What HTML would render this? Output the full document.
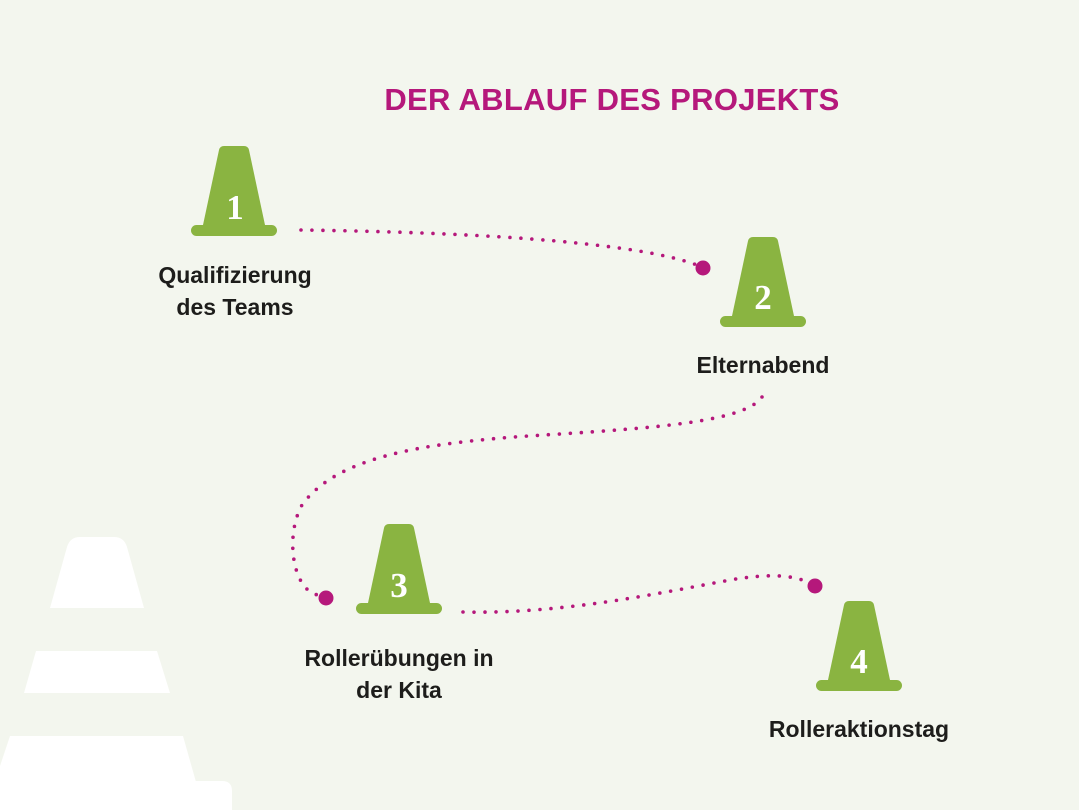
<!DOCTYPE html>
<html><head><meta charset="utf-8"><style>
html,body{margin:0;padding:0;background:#f3f6ee;}
body{width:1079px;height:810px;overflow:hidden;position:relative;font-family:"Liberation Sans",sans-serif;}
.t{position:absolute;font-weight:bold;color:#1d1d1b;font-size:23px;line-height:32px;text-align:center;white-space:nowrap;}
</style></head><body>
<svg width="1079" height="810" style="position:absolute;left:0;top:0">
<defs>
<g id="cone">
<path d="M-10,0 L10,0 Q14,0 15,4 L31,79 L-31,79 L-15,4 Q-14,0 -10,0 Z" fill="#8ab441"/>
<rect x="-43" y="79" width="86" height="11" rx="5.5" fill="#8ab441"/>
</g>
</defs>
<g fill="#ffffff">
<path d="M80,537 L114,537 Q124,537 127,547 L144,608 L50,608 L67,547 Q70,537 80,537 Z"/>
<path d="M36,651 L157,651 L170,693 L24,693 Z"/>
<path d="M10,736 L183,736 L196,782 L0,782 L0,766 Z"/>
<path d="M0,781 L222,781 Q232,781 232,791 L232,810 L0,810 Z"/>
</g>
<g fill="none" stroke="#b5187b" stroke-width="3.6" stroke-linecap="round" stroke-dasharray="0 11">
<path d="M301,230 C450,232 630,240 697,265"/>
<path d="M762,397 C745,422 650,428 560,434 C440,441 340,452 302,505 C285,535 292,590 318,595"/>
<path d="M463,612 C560,614 650,595 730,580 C770,573 795,575 812,584"/>
</g>
<g fill="#b5187b">
<circle cx="703" cy="268" r="7.5"/>
<circle cx="326" cy="598" r="7.5"/>
<circle cx="815" cy="586" r="7.5"/>
</g>
<use href="#cone" x="234" y="146"/>
<use href="#cone" x="763" y="237"/>
<use href="#cone" x="399" y="524"/>
<use href="#cone" x="859" y="601"/>
<g fill="#ffffff" font-family="Liberation Serif, serif" font-weight="bold" font-size="35" text-anchor="middle">
<text x="235" y="219">1</text>
<text x="763" y="309">2</text>
<text x="399" y="597">3</text>
<text x="859" y="673">4</text>
</g>
</svg>
<div class="t" style="left:612px;top:80px;transform:translateX(-50%);color:#b5187b;font-size:31px;line-height:40px;letter-spacing:0.3px;">DER ABLAUF DES PROJEKTS</div>
<div class="t" style="left:235px;top:259px;transform:translateX(-50%);">Qualifizierung<br>des Teams</div>
<div class="t" style="left:763px;top:349px;transform:translateX(-50%);">Elternabend</div>
<div class="t" style="left:399px;top:642px;transform:translateX(-50%);">Rollerübungen in<br>der Kita</div>
<div class="t" style="left:859px;top:713px;transform:translateX(-50%);">Rolleraktionstag</div>
</body></html>
